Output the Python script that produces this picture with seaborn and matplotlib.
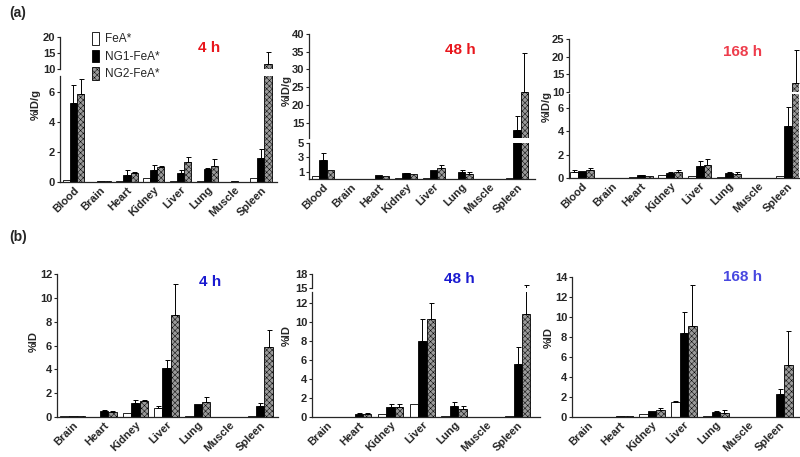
import matplotlib
matplotlib.use("Agg")
import matplotlib.pyplot as plt
import numpy as np
import pandas as pd
import seaborn as sns

W, H = 800, 457

GROUPS = ["FeA*", "NG1-FeA*", "NG2-FeA*"]
PALETTE = {"FeA*": "white", "NG1-FeA*": "black", "NG2-FeA*": "#9a9a9a"}

ORGANS_A = ["Blood", "Brain", "Heart", "Kidney", "Liver", "Lung", "Muscle", "Spleen"]
ORGANS_B = ["Brain", "Heart", "Kidney", "Liver", "Lung", "Muscle", "Spleen"]

# (a) %ID/g, rows = FeA*, NG1-FeA*, NG2-FeA*
A4_MEAN = [
    [0.15, 0.03, 0.05, 0.25, 0.10, 0.05, 0.03, 0.25],
    [5.3, 0.05, 0.5, 0.8, 0.6, 0.9, 0.05, 1.6],
    [5.9, 0.05, 0.6, 1.0, 1.35, 1.05, 0.03, 11.6],
]
A4_ERR = [
    [0.0, 0.0, 0.0, 0.0, 0.0, 0.0, 0.0, 0.0],
    [1.2, 0.0, 0.3, 0.35, 0.2, 0.05, 0.0, 0.6],
    [1.0, 0.0, 0.05, 0.05, 0.35, 0.5, 0.0, 3.7],
]
A48_MEAN = [
    [0.4, 0.0, 0.05, 0.1, 0.1, 0.05, 0.02, 0.1],
    [2.6, 0.0, 0.5, 0.8, 1.2, 1.0, 0.05, 12.9],
    [1.3, 0.0, 0.4, 0.75, 1.5, 0.75, 0.02, 23.6],
]
A48_ERR = [
    [0.0, 0.0, 0.0, 0.0, 0.0, 0.0, 0.0, 0.0],
    [1.0, 0.0, 0.0, 0.1, 0.0, 0.3, 0.0, 3.9],
    [0.0, 0.0, 0.0, 0.0, 0.4, 0.2, 0.0, 11.0],
]
A168_MEAN = [
    [0.55, 0.0, 0.05, 0.3, 0.2, 0.1, 0.02, 0.15],
    [0.6, 0.0, 0.25, 0.4, 1.05, 0.4, 0.02, 4.5],
    [0.7, 0.0, 0.15, 0.5, 1.15, 0.35, 0.02, 12.6],
]
A168_ERR = [
    [0.1, 0.0, 0.0, 0.0, 0.0, 0.0, 0.0, 0.0],
    [0.0, 0.0, 0.05, 0.1, 0.4, 0.1, 0.0, 1.6],
    [0.15, 0.0, 0.0, 0.15, 0.5, 0.2, 0.0, 9.4],
]

# (b) %ID
B4_MEAN = [
    [0.05, 0.02, 0.3, 0.75, 0.05, 0.0, 0.08],
    [0.08, 0.5, 1.15, 4.1, 1.1, 0.0, 0.9],
    [0.1, 0.45, 1.35, 8.6, 1.25, 0.0, 5.9],
]
B4_ERR = [
    [0.0, 0.0, 0.0, 0.2, 0.0, 0.0, 0.0],
    [0.0, 0.08, 0.3, 0.7, 0.0, 0.0, 0.25],
    [0.0, 0.05, 0.05, 2.6, 0.45, 0.0, 1.4],
]
B48_MEAN = [
    [0.05, 0.02, 0.35, 1.4, 0.1, 0.02, 0.1],
    [0.02, 0.35, 1.05, 8.0, 1.15, 0.0, 5.6],
    [0.0, 0.35, 1.05, 10.4, 0.85, 0.0, 10.9],
]
B48_ERR = [
    [0.0, 0.0, 0.0, 0.0, 0.0, 0.0, 0.0],
    [0.0, 0.05, 0.35, 2.4, 0.4, 0.0, 1.8],
    [0.0, 0.05, 0.3, 1.6, 0.3, 0.0, 4.8],
]
B168_MEAN = [
    [0.0, 0.02, 0.35, 1.5, 0.15, 0.0, 0.05],
    [0.0, 0.15, 0.6, 8.4, 0.5, 0.0, 2.3],
    [0.0, 0.12, 0.7, 9.1, 0.45, 0.0, 5.2],
]
B168_ERR = [
    [0.0, 0.0, 0.0, 0.1, 0.0, 0.0, 0.0],
    [0.0, 0.0, 0.0, 2.1, 0.1, 0.0, 0.55],
    [0.0, 0.0, 0.25, 4.1, 0.3, 0.0, 3.4],
]

sns.set_style("ticks")
plt.rcParams["font.family"] = ["Liberation Sans", "DejaVu Sans"]
plt.rcParams["hatch.linewidth"] = 0.35
plt.rcParams["hatch.color"] = "black"

fig = plt.figure(figsize=(W / 100, H / 100), dpi=100)


def px_rect(x0, x1, y_top, y_bot):
    return [x0 / W, 1 - y_bot / H, (x1 - x0) / W, (y_bot - y_top) / H]


def draw_bars(ax, organs, means, errs):
    rows = []
    for g, vals in zip(GROUPS, means):
        for o, v in zip(organs, vals):
            rows.append((o, g, v))
    df = pd.DataFrame(rows, columns=["organ", "group", "value"])
    sns.barplot(data=df, x="organ", y="value", hue="group", order=organs,
                hue_order=GROUPS, palette=PALETTE, saturation=1, width=0.8,
                edgecolor="black", linewidth=0.6, errorbar=None, legend=False, ax=ax)
    bars = list(ax.containers[:3])
    for bar in bars[2]:
        bar.set_hatch("xxxxxx")
    for cont, err in zip(bars, errs):
        xs = [b.get_x() + b.get_width() / 2 for b in cont]
        ys = [b.get_height() for b in cont]
        err = np.asarray(err)
        keep = err > 0
        if keep.any():
            ax.errorbar(np.asarray(xs)[keep], np.asarray(ys)[keep],
                        yerr=[np.zeros(keep.sum()), err[keep]], fmt="none",
                        ecolor="black", elinewidth=0.7, capsize=1.8, capthick=0.7)
    return bars


def style_ax(ax, xlim, ylim, yticks, bottom=True):
    ax.set_xlim(*xlim)
    ax.set_ylim(*ylim)
    ax.set_yticks(yticks)
    ax.set_yticklabels([str(t) for t in yticks], fontsize=8, fontweight="bold")
    ax.set_xlabel("")
    ax.set_ylabel("")
    ax.patch.set_alpha(0)
    for s in ["top", "right"]:
        ax.spines[s].set_visible(False)
    ax.spines["left"].set_linewidth(0.9)
    ax.spines["bottom"].set_linewidth(0.9)
    ax.tick_params(axis="y", length=2.5, width=0.8, pad=1)
    ax.tick_params(axis="x", length=0, pad=2)
    if bottom:
        ax.tick_params(axis="x", labelrotation=45)
        for lab in ax.get_xticklabels():
            lab.set_ha("right")
            lab.set_rotation_mode("anchor")
            lab.set_fontsize(8)
            lab.set_fontweight("bold")
    else:
        ax.spines["bottom"].set_visible(False)
        ax.set_xticks([])


def panel(x0, x1, organs, means, errs, xlim, low, high=None):
    # low/high: (y_top, y_bot, ylim, yticks)
    ax = fig.add_axes(px_rect(x0, x1, low[0], low[1]))
    bars = draw_bars(ax, organs, means, errs)
    style_ax(ax, xlim, low[2], low[3])
    if high is not None:
        ax2 = fig.add_axes(px_rect(x0, x1, high[0], high[1]))
        draw_bars(ax2, organs, means, errs)
        style_ax(ax2, xlim, high[2], high[3], bottom=False)
    return bars


# row (a)
bars_a = panel(60, 277, ORGANS_A, A4_MEAN, A4_ERR, (-0.5, 7.6),
               (76, 182, (0, 7.07), [0, 2, 4, 6]), (37, 69, (10, 20), [10, 15, 20]))
panel(309, 535, ORGANS_A, A48_MEAN, A48_ERR, (-0.5, 7.65),
      (143, 179, (0, 5), [1, 3, 5]), (34, 138, (10.7, 40), [15, 20, 25, 30, 35, 40]))
panel(569, 799, ORGANS_A, A168_MEAN, A168_ERR, (-0.44, 7.38),
      (94, 178, (0, 7.2), [0, 2, 4, 6]), (39, 92, (10, 25), [10, 15, 20, 25]))

# row (b)
panel(57, 278, ORGANS_B, B4_MEAN, B4_ERR, (-0.51, 6.57),
      (274, 417, (0, 12), [0, 2, 4, 6, 8, 10, 12]))
panel(312, 540, ORGANS_B, B48_MEAN, B48_ERR, (-0.47, 6.7),
      (292, 417, (0, 13.2), [0, 2, 4, 6, 8, 10, 12]), (274, 288, (15, 18), [15, 18]))
panel(572, 799, ORGANS_B, B168_MEAN, B168_ERR, (-0.5, 6.6),
      (277, 417, (0, 14), [0, 2, 4, 6, 8, 10, 12, 14]))

# legend
handles = [cont[0] for cont in bars_a]
fig.legend(handles, GROUPS, loc="upper left", bbox_to_anchor=(92 / W, 1 - 32 / H),
           frameon=False, fontsize=8.5, handlelength=0.6, handleheight=1.3,
           handletextpad=0.5, labelspacing=0.35, borderaxespad=0, borderpad=0)


def ftext(x, y, s, **kw):
    fig.text(x / W, 1 - y / H, s, ha="center", va="center", **kw)


ftext(18, 13, "(a)", fontsize=10, fontweight="bold")
ftext(18, 237, "(b)", fontsize=10, fontweight="bold")

ftext(209, 48, "4 h", fontsize=11, fontweight="bold", color="#e8161c")
ftext(460, 50, "48 h", fontsize=11, fontweight="bold", color="#e8161c")
ftext(743, 52, "168 h", fontsize=11, fontweight="bold", color="#ee3d4c")
ftext(210, 282, "4 h", fontsize=11, fontweight="bold", color="#1a1ad0")
ftext(459, 279, "48 h", fontsize=11, fontweight="bold", color="#1a1ad0")
ftext(743, 277, "168 h", fontsize=11, fontweight="bold", color="#4848e0")

ylab = dict(fontsize=8, fontweight="bold", rotation=90)
ftext(36, 105, "%ID/g", **ylab)
ftext(287, 90, "%ID/g", **ylab)
ftext(547, 107, "%ID/g", **ylab)
ftext(34, 342, "%ID", **ylab)
ftext(287, 335, "%ID", **ylab)
ftext(549, 338, "%ID", **ylab)

fig.savefig("out.png", dpi=100, facecolor="white")
